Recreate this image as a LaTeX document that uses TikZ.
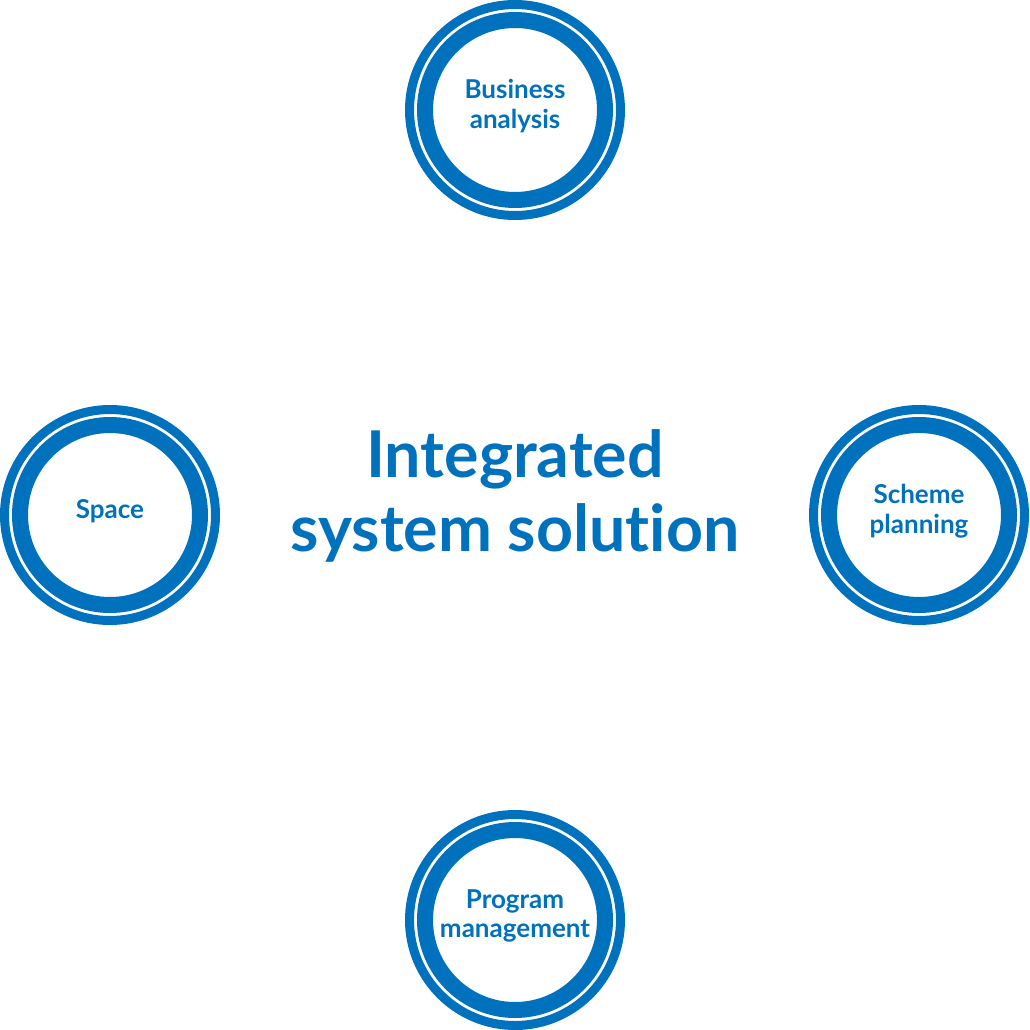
\documentclass[tikz,border=0pt]{standalone}
\usepackage{fontspec}
\setmainfont{Lato}[Ligatures=NoCommon]
\definecolor{ringblue}{RGB}{0,113,188}
\begin{document}
\begin{tikzpicture}[x=1pt,y=-1pt,
  outerring/.style={draw=ringblue,line width=9pt},
  innerring/.style={draw=ringblue,line width=16pt},
  lbl/.style={text=ringblue,font=\fontsize{26}{29.5}\selectfont\bfseries,align=center,inner sep=0pt},
  title/.style={text=ringblue,font=\fontsize{64.5}{74}\selectfont\bfseries,align=center,inner sep=0pt}]
\useasboundingbox[fill=white] (0,0) rectangle (1030,1030);
\node[title] (t) at (515,496) {Integrated\\system solution};
\foreach \n/\x/\y/\txt in {ba/515/110/{Business\\analysis},sp/110/515/{Space},sc/919/515/{Scheme\\planning},pm/515/920/{Program\\management}}{
  \coordinate (\n c) at (\x,\y);
  \draw[outerring] (\n c) circle (105.5);
  \draw[innerring] (\n c) circle (90);
  \node[lbl] (\n) at ([yshift=4pt]\n c) {\txt};
}
\end{tikzpicture}
\end{document}
